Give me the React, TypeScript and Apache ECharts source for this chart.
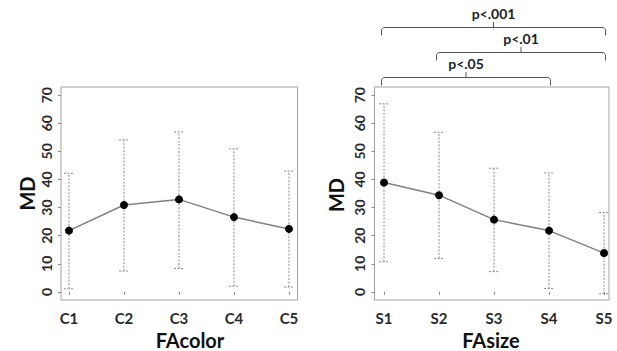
import React, { useEffect, useRef } from "react";
import * as echarts from "echarts";

const colorCats = ["C1", "C2", "C3", "C4", "C5"];
const sizeCats = ["S1", "S2", "S3", "S4", "S5"];
const colorMean = [21.8, 30.9, 32.9, 26.6, 22.4];
const colorUpper = [42.2, 54.1, 56.9, 50.9, 43.0];
const colorLower = [1.1, 7.4, 8.3, 2.0, 1.7];
const sizeMean = [38.9, 34.4, 25.7, 21.8, 13.8];
const sizeUpper = [66.9, 56.8, 44.0, 42.3, 28.2];
const sizeLower = [10.7, 11.9, 7.2, 1.2, -0.7];
const yTicks = [0, 10, 20, 30, 40, 50, 60, 70];
const xTicks = [1, 2, 3, 4, 5];
const comparisons = [
  { from: 1, to: 5, label: "p<.001", y: 27.5 },
  { from: 2, to: 5, label: "p<.01", y: 52.5 },
  { from: 1, to: 4, label: "p<.05", y: 77.5 },
];

const FONT = "Lato, 'Open Sans', sans-serif";
const BOX = "#a3a3a3";

function errSeries(idx: number, lower: number[], upper: number[]) {
  return {
    type: "custom",
    xAxisIndex: idx,
    yAxisIndex: idx,
    silent: true,
    z: 1,
    data: lower.map((l, i) => [i + 1, l, upper[i]]),
    encode: { x: 0, y: [1, 2] },
    renderItem: (params: any, api: any) => {
      const x = api.value(0);
      const lo = api.coord([x, api.value(1)]);
      const hi = api.coord([x, api.value(2)]);
      const st = { stroke: "#8c8c8c", lineWidth: 1, lineDash: [2, 1.5] };
      return {
        type: "group",
        children: [
          { type: "line", shape: { x1: lo[0], y1: lo[1], x2: hi[0], y2: hi[1] }, style: st },
          { type: "line", shape: { x1: lo[0] - 5, y1: lo[1], x2: lo[0] + 5, y2: lo[1] }, style: st },
          { type: "line", shape: { x1: hi[0] - 5, y1: hi[1], x2: hi[0] + 5, y2: hi[1] }, style: st },
        ],
      };
    },
  };
}

function lineSeries(idx: number, mean: number[]) {
  return {
    type: "line",
    xAxisIndex: idx,
    yAxisIndex: idx,
    z: 3,
    data: mean.map((m, i) => [i + 1, m]),
    symbol: "circle",
    symbolSize: 8,
    itemStyle: { color: "#000" },
    lineStyle: { color: "#808080", width: 1.5 },
  };
}

function xAxis(idx: number, cats: string[], min: number, max: number) {
  return {
    type: "value",
    gridIndex: idx,
    min,
    max,
    axisLine: { show: false },
    splitLine: { show: false },
    axisTick: { show: true, length: 3, customValues: xTicks, lineStyle: { color: "#888" } },
    axisLabel: {
      customValues: xTicks,
      formatter: (v: number) => cats[Math.round(v) - 1] || "",
      margin: 10,
      fontFamily: FONT,
      fontWeight: "bold",
      fontSize: 15,
      color: "#2a2a2a",
    },
  };
}

function yAxis(idx: number) {
  return {
    type: "value",
    gridIndex: idx,
    min: -2.9,
    max: 72.9,
    axisLine: { show: false },
    splitLine: { show: false },
    axisTick: { show: true, length: 3, customValues: yTicks, lineStyle: { color: "#888" } },
    axisLabel: {
      customValues: yTicks,
      rotate: 90,
      margin: 8,
      fontFamily: FONT,
      fontWeight: "bold",
      fontSize: 14,
      color: "#2a2a2a",
    },
  };
}

export default function App() {
  const ref = useRef<HTMLDivElement>(null);
  useEffect(() => {
    if (!ref.current) return;
    const chart = echarts.init(ref.current, null, { renderer: "svg" });
    chart.setOption({
      animation: false,
      backgroundColor: "#fff",
      grid: [
        { left: 61, top: 87, width: 236.5, height: 213, show: true, borderColor: BOX, borderWidth: 1 },
        { left: 374.5, top: 87, width: 234.5, height: 213, show: true, borderColor: BOX, borderWidth: 1 },
      ],
      xAxis: [xAxis(0, colorCats, 0.855, 5.155), xAxis(1, sizeCats, 0.827, 5.09)],
      yAxis: [yAxis(0), yAxis(1)],
      series: [
        errSeries(0, colorLower, colorUpper),
        lineSeries(0, colorMean),
        errSeries(1, sizeLower, sizeUpper),
        lineSeries(1, sizeMean),
      ],
    });

    const px = (v: number) => chart.convertToPixel({ xAxisIndex: 1, yAxisIndex: 1 }, [v, 0])[0];
    const graphics: any[] = [];
    comparisons.forEach((c) => {
      const x1 = px(c.from) - 2.5;
      const x2 = px(c.to) + 1.5;
      const mid = (x1 + x2) / 2;
      const y = c.y;
      const st = { stroke: "#555", lineWidth: 1, fill: null };
      graphics.push({
        type: "polyline",
        shape: {
          points: [
            [x1, y + 8],
            [x1, y + 2],
            [x1 + 2, y],
            [x2 - 2, y],
            [x2, y + 2],
            [x2, y + 8],
          ],
        },
        style: st,
      });
      graphics.push({ type: "line", shape: { x1: mid, y1: y, x2: mid, y2: y - 5.5 }, style: st });
      graphics.push({
        type: "text",
        x: mid,
        y: y - 14,
        style: {
          text: c.label,
          fontFamily: FONT,
          fontWeight: "bold",
          fontSize: 14,
          fill: "#222",
          align: "center",
          verticalAlign: "middle",
        },
      });
    });
    const nameStyle = { fontFamily: FONT, fontWeight: "bold", fontSize: 20, fill: "#111", align: "center", verticalAlign: "middle" };
    graphics.push({ type: "text", x: 27, y: 193.5, rotation: Math.PI / 2, style: { ...nameStyle, text: "MD" } });
    graphics.push({ type: "text", x: 336, y: 195, rotation: Math.PI / 2, style: { ...nameStyle, text: "MD" } });
    graphics.push({ type: "text", x: 190, y: 340, style: { ...nameStyle, text: "FAcolor" } });
    graphics.push({ type: "text", x: 491, y: 340, style: { ...nameStyle, text: "FAsize" } });
    chart.setOption({ graphic: graphics });

    return () => chart.dispose();
  }, []);
  return (
    <div
      ref={ref}
      style={{ position: "absolute", left: 0, top: 0, width: 617, height: 351, background: "#fff" }}
    />
  );
}
